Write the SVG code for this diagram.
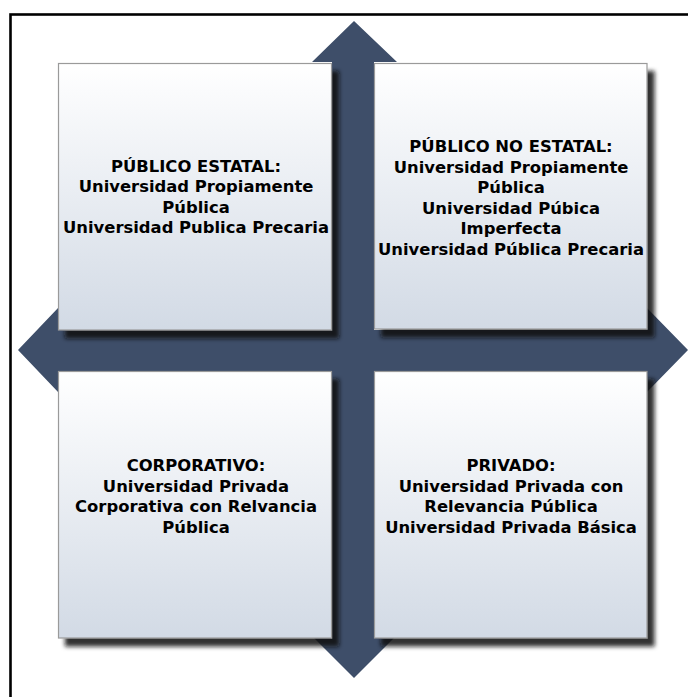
<svg xmlns="http://www.w3.org/2000/svg" width="688" height="697" viewBox="0 0 688 697">
<defs>
<linearGradient id="boxg" x1="0" y1="0" x2="0" y2="1">
<stop offset="0" stop-color="#ffffff"/>
<stop offset="1" stop-color="#d2dae5"/>
</linearGradient>
<filter id="sh" x="-10%" y="-10%" width="125%" height="125%">
<feGaussianBlur in="SourceAlpha" stdDeviation="2"/>
<feOffset dx="7" dy="8" result="b"/>
<feFlood flood-color="#111111" flood-opacity="0.85"/>
<feComposite in2="b" operator="in" result="s"/>
<feMerge><feMergeNode in="s"/><feMergeNode in="SourceGraphic"/></feMerge>
</filter>
<style>
.box{fill:url(#boxg);stroke:#9a9a9a;stroke-width:1.2;}
.t{font-family:"DejaVu Sans",Verdana,sans-serif;font-weight:bold;font-size:16.4px;fill:#000;text-anchor:middle;}
</style>
</defs>
<rect x="10.5" y="14.5" width="700" height="700" fill="#ffffff" stroke="#000000" stroke-width="2.6"/>
<g id="connectors">
<path d="M354,21 L397,62 L374,62 L374,330 L647,330 L647,308 L688,350 L647,392 L647,371 L374,371 L374,637 L395,637 L354,678 L313,637 L332,637 L332,371 L58,371 L58,392 L18,350 L58,308 L58,330 L332,330 L332,62 L312,62 Z" fill="#3e4e69"/>
</g>
<g id="publico-estatal">
<rect class="box" x="58.5" y="63.5" width="273" height="266.5" filter="url(#sh)"/>
<text class="t" x="196" y="171.5">PÚBLICO ESTATAL:</text>
<text class="t" x="196" y="192">Universidad Propiamente</text>
<text class="t" x="196" y="212.5">Pública</text>
<text class="t" x="196" y="233">Universidad Publica Precaria</text>
</g>
<g id="publico-no-estatal">
<rect class="box" x="374.5" y="63.5" width="272.5" height="265.5" filter="url(#sh)"/>
<text class="t" x="511" y="152">PÚBLICO NO ESTATAL:</text>
<text class="t" x="511" y="172.5">Universidad Propiamente</text>
<text class="t" x="511" y="193">Pública</text>
<text class="t" x="511" y="213.5">Universidad Púbica</text>
<text class="t" x="511" y="234">Imperfecta</text>
<text class="t" x="511" y="254.5">Universidad Pública Precaria</text>
</g>
<g id="corporativo">
<rect class="box" x="58.5" y="371.5" width="273" height="266.5" filter="url(#sh)"/>
<text class="t" x="196" y="471">CORPORATIVO:</text>
<text class="t" x="196" y="491.5">Universidad Privada</text>
<text class="t" x="196" y="512">Corporativa con Relvancia</text>
<text class="t" x="196" y="532.5">Pública</text>
</g>
<g id="privado">
<rect class="box" x="374.5" y="371.5" width="272.5" height="266.5" filter="url(#sh)"/>
<text class="t" x="511" y="471">PRIVADO:</text>
<text class="t" x="511" y="491.5">Universidad Privada con</text>
<text class="t" x="511" y="512">Relevancia Pública</text>
<text class="t" x="511" y="532.5">Universidad Privada Básica</text>
</g>
</svg>
